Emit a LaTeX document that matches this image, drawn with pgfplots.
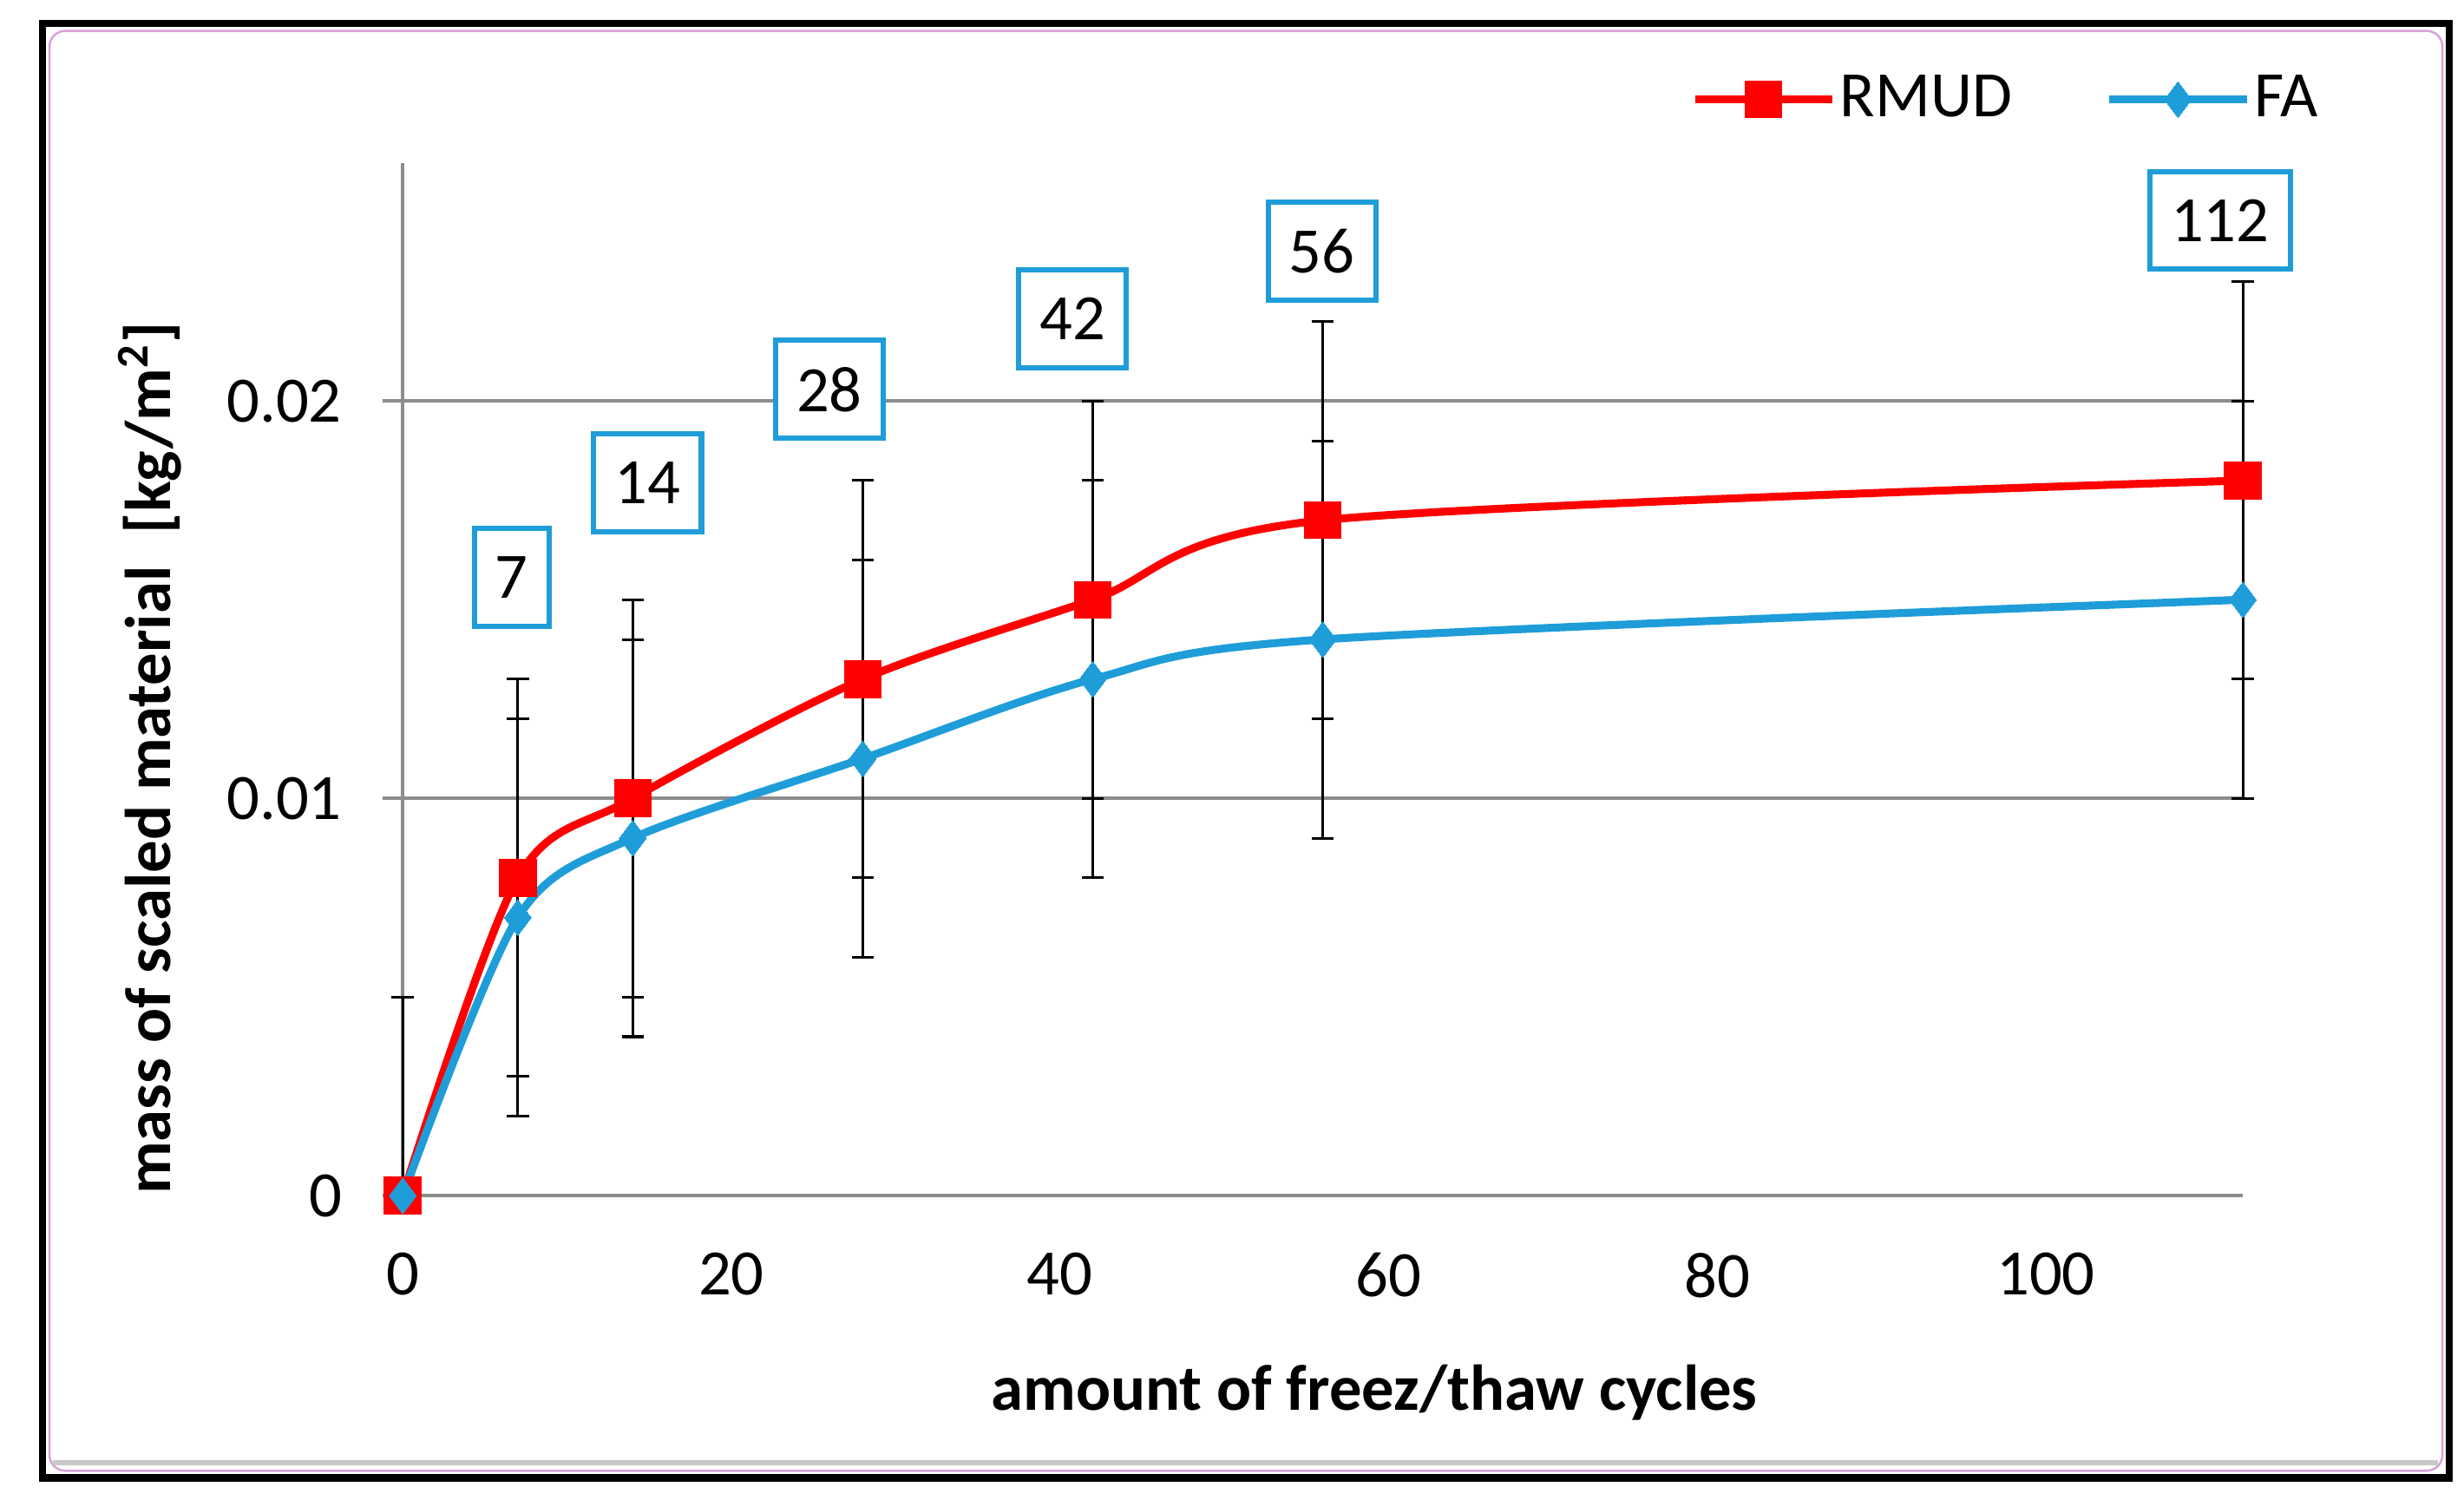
\documentclass[border=0pt]{standalone}
\usepackage{fontspec}
\setmainfont{Carlito}
\usepackage{pgfplots}
\pgfplotsset{compat=1.18}
\definecolor{fared}{RGB}{255,0,0}
\definecolor{fablue}{RGB}{30,157,217}
\definecolor{gridgray}{RGB}{140,140,140}
\definecolor{framepink}{RGB}{215,160,215}
\definecolor{shadowgray}{RGB}{200,200,200}
\pgfplotstableread{
x y ep em
0 0 0.005 0
7 0.008 0.005 0.005
14 0.010 0.005 0.005
28 0.013 0.005 0.005
42 0.015 0.005 0.005
56 0.017 0.005 0.005
112 0.018 0.005 0.005
}\rmud
\pgfplotstableread{
x y ep em
0 0 0.005 0
7 0.007 0.005 0.005
14 0.009 0.005 0.005
28 0.011 0.005 0.005
42 0.013 0.005 0.005
56 0.014 0.005 0.005
112 0.015 0.005 0.005
}\fa
\begin{document}
\begin{tikzpicture}[font=\fontsize{12.3}{14.8}\selectfont]
\useasboundingbox (0,0) rectangle (468pt,284.76pt);
\fill[white] (0,0) rectangle (468pt,284.76pt);
\draw[framepink, line width=0.4pt, rounded corners=3pt] (9.4pt,5.4pt) rectangle (463.9pt,278.9pt);
\draw[shadowgray, line width=1pt] (10pt,6.9pt) -- (463pt,6.9pt);
\draw[line width=1.35pt] (8.01pt,4.05pt) rectangle (465.24pt,280.26pt);
\begin{axis}[
  at={(76.5pt,57.66pt)}, anchor=south west,
  scale only axis, width=349.5pt, height=196.2pt,
  xmin=0, xmax=112, ymin=0, ymax=0.026,
  clip=false,
  axis lines=left,
  axis line style={-, draw=gridgray, line width=0.6pt},
  ymajorgrids, grid style={gridgray, line width=0.6pt},
  scaled y ticks=false, scaled x ticks=false,
  xtick={0,20,40,60,80,100}, xticklabels={0,20,40,60,80,100},
  ytick={0,0.01,0.02}, yticklabels={0,0.01,0.02},
  tick align=outside, major tick length=3.9pt,
  xtick style={draw=none},
  ytick style={draw=gridgray, line width=0.6pt},
  yticklabel style={anchor=east, inner sep=0pt, xshift=-7.5pt},
  xticklabel style={anchor=north, inner sep=0pt, yshift=-6.8pt},
  label style={font=\fontsize{12.3}{14.8}\selectfont\bfseries},
  xlabel={amount of freez/thaw cycles},
  xlabel style={at={(axis description cs:0.528,-0.208)}, anchor=base},
  ylabel={mass of scaled material\hspace{0.5em}[kg/m\textsuperscript{2}]},
  ylabel style={at={(axis description cs:-0.1262,0.4235)}, anchor=base},
  legend style={at={(axis description cs:0.6995,1.0612)}, anchor=west,
    draw=none, fill=none, inner sep=0pt, legend columns=-1,
    nodes={inner sep=0.8pt},
    /tikz/every even column/.append style={column sep=17pt}},
  legend cell align=left,
  legend image code/.code={\draw[mark repeat=2,mark phase=2,#1] plot coordinates {(0pt,0pt) (13pt,0pt) (26pt,0pt)};},
  error bars/error bar style={black, line width=0.5pt, solid},
  error bars/error mark options={rotate=90, mark size=2.1pt, black, line width=0.5pt},
]
\addplot[fared, line width=1.5pt, smooth, mark=square*, mark size=3.5pt,
  mark options={solid, fill=fared, draw=fared, line width=0pt},
  error bars/.cd, y dir=both, y explicit]
  table[x=x, y=y, y error plus=ep, y error minus=em] {\rmud};
\addlegendentry{RMUD}
\addplot[fablue, line width=1.5pt, smooth, mark=diamond*, mark size=3.4pt,
  mark options={solid, fill=fablue, draw=fablue, line width=0pt},
  error bars/.cd, y dir=both, y explicit]
  table[x=x, y=y, y error plus=ep, y error minus=em] {\fa};
\addlegendentry{FA}
\begin{scope}[every node/.style={draw=fablue, line width=1pt, inner xsep=4pt, minimum height=18.6pt, fill=white}]
\node at (axis cs:6.63,0.015565) {7};
\node at (axis cs:14.90,0.01795) {14};
\node at (axis cs:25.96,0.020295) {28};
\node at (axis cs:40.76,0.022064) {42};
\node at (axis cs:55.95,0.023774) {56};
\node at (axis cs:110.61,0.024549) {112};
\end{scope}
\end{axis}
\end{tikzpicture}
\end{document}
